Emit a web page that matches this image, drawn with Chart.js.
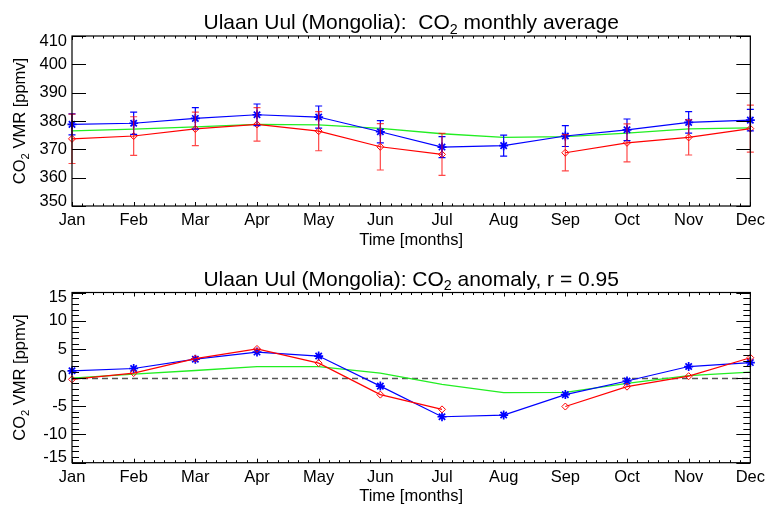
<!DOCTYPE html>
<html>
<head>
<meta charset="utf-8">
<script src="https://cdn.jsdelivr.net/npm/chart.js@4.4.1/dist/chart.umd.min.js"></script>
<style>
html, body { margin: 0; padding: 0; background: #fff; overflow: hidden; }
#wrap { position: relative; width: 770px; height: 506px; }
#wrap canvas { position: absolute; left: 0; }
</style>
</head>
<body>
<div id="wrap">
  <canvas id="avgChart" width="770" height="253" style="top:0px"></canvas>
  <canvas id="anomChart" width="770" height="253" style="top:253px"></canvas>
</div>
<script>
// ---- data -------------------------------------------------------------
const months = ['Jan', 'Feb', 'Mar', 'Apr', 'May', 'Jun', 'Jul', 'Aug', 'Sep', 'Oct', 'Nov', 'Dec'];

// monthly average CO2 VMR [ppmv]
const avgBlue  = [378.8, 379.2, 380.9, 382.2, 381.4, 376.2, 370.8, 371.3, 374.7, 376.9, 379.5, 380.3];
const errBlue  = [3.7, 3.9, 3.8, 3.8, 3.9, 3.9, 3.7, 3.7, 3.7, 3.8, 3.8, 3.8];
const avgRed   = [373.7, 374.7, 377.2, 378.8, 376.4, 370.9, 368.2, null, 368.8, 372.3, 374.2, 377.3];
const errRed   = [8.7, 6.8, 5.9, 5.9, 6.9, 8.2, 7.4, null, 6.4, 6.7, 6.2, 8.3];
const avgGreen = [376.5, 377.1, 377.9, 378.8, 378.6, 377.4, 375.5, 374.2, 374.5, 375.7, 377.2, 377.6];

// anomaly about the annual mean [ppmv]
const anomBlue  = [1.2, 1.6, 3.25, 4.5, 3.8, -1.5, -6.9, -6.6, -3.0, -0.6, 1.95, 2.65];
const anomRed   = [-0.3, 0.8, 3.35, 5.05, 2.55, -3.0, -5.6, null, -5.1, -1.6, 0.25, 3.5];
const anomGreen = [-0.1, 0.6, 1.25, 1.95, 1.95, 0.8, -1.2, -2.65, -2.6, -1.0, 0.35, 0.95];

// axis ranges and tick spacing
const avgAxis  = { min: 350, max: 410, step: 10, minor: null };
const anomAxis = { min: -15, max: 15, step: 5, minor: 1 };

const titleAvg  = [{ t: 'Ulaan Uul (Mongolia):  CO' }, { t: '2', sub: true }, { t: ' monthly average' }];
const titleAnom = [{ t: 'Ulaan Uul (Mongolia): CO' }, { t: '2', sub: true }, { t: ' anomaly, r = 0.95' }];
const yTitle    = [{ t: 'CO' }, { t: '2', sub: true }, { t: ' VMR [ppmv]' }];
const xTitle    = 'Time [months]';

// ---- drawing helpers --------------------------------------------------
const FONT = "'Liberation Sans', Arial, Helvetica, sans-serif";
const INK = '#000';

function richWidth(ctx, parts, size) {
  let w = 0;
  for (const p of parts) {
    ctx.font = (p.sub ? size * 0.68 : size) + 'px ' + FONT;
    w += ctx.measureText(p.t).width;
  }
  return w;
}
function drawRich(ctx, parts, x, y, size) {
  // x is the horizontal centre, y the baseline
  let cx = x - richWidth(ctx, parts, size) / 2;
  ctx.textAlign = 'left';
  ctx.textBaseline = 'alphabetic';
  for (const p of parts) {
    ctx.font = (p.sub ? size * 0.68 : size) + 'px ' + FONT;
    ctx.fillText(p.t, cx, p.sub ? y + size * 0.22 : y);
    cx += ctx.measureText(p.t).width;
  }
}

const idlFrame = {
  id: 'idlFrame',
  beforeDatasetsDraw(chart, args, o) {
    const { ctx, chartArea: a, scales: { y } } = chart;
    if (!o.zeroLine) return;
    const py = Math.round(y.getPixelForValue(0)) + 0.5;
    ctx.save();
    ctx.strokeStyle = '#555';
    ctx.lineWidth = 1.6;
    ctx.setLineDash([6, 4]);
    ctx.beginPath();
    ctx.moveTo(a.left, py);
    ctx.lineTo(a.right, py);
    ctx.stroke();
    ctx.restore();
  },
  afterDatasetsDraw(chart, args, o) {
    const { ctx, scales: { x, y } } = chart;
    ctx.save();
    for (const e of (o.errors || [])) {
      ctx.strokeStyle = e.color;
      ctx.lineWidth = 1.2;
      e.data.forEach((v, i) => {
        if (v === null || e.err[i] === null) return;
        const px = x.getPixelForValue(i);
        const y1 = y.getPixelForValue(v + e.err[i]);
        const y2 = y.getPixelForValue(v - e.err[i]);
        ctx.beginPath();
        ctx.moveTo(px, y1); ctx.lineTo(px, y2);
        ctx.moveTo(px - 3.5, y1); ctx.lineTo(px + 3.5, y1);
        ctx.moveTo(px - 3.5, y2); ctx.lineTo(px + 3.5, y2);
        ctx.stroke();
      });
    }
    ctx.restore();
  },
  afterDraw(chart, args, o) {
    const { ctx, chartArea: a, scales: { x, y } } = chart;
    const ax = o.axis;
    ctx.save();
    ctx.strokeStyle = INK;
    ctx.fillStyle = INK;

    // box around the plot
    ctx.lineWidth = 1.2;
    ctx.strokeRect(a.left, a.top, a.right - a.left, a.bottom - a.top);

    // y ticks, pointing inward on both sides
    ctx.lineWidth = 1;
    ctx.beginPath();
    for (let v = ax.min; v <= ax.max + 1e-9; v += ax.step) {
      const py = Math.round(y.getPixelForValue(v)) + 0.5;
      ctx.moveTo(a.left, py); ctx.lineTo(a.left + 14, py);
      ctx.moveTo(a.right, py); ctx.lineTo(a.right - 14, py);
    }
    if (ax.minor) {
      for (let v = ax.min; v <= ax.max + 1e-9; v += ax.minor) {
        if (Math.abs(v % ax.step) < 1e-9) continue;
        const py = Math.round(y.getPixelForValue(v)) + 0.5;
        ctx.moveTo(a.left, py); ctx.lineTo(a.left + 7, py);
        ctx.moveTo(a.right, py); ctx.lineTo(a.right - 7, py);
      }
    }
    // x ticks: one per month plus five minor in between
    for (let i = 0; i < months.length; i++) {
      const px = Math.round(x.getPixelForValue(i)) + 0.5;
      ctx.moveTo(px, a.bottom); ctx.lineTo(px, a.bottom - 4);
      ctx.moveTo(px, a.top); ctx.lineTo(px, a.top + 4);
      if (i < months.length - 1) {
        const p0 = x.getPixelForValue(i), p1 = x.getPixelForValue(i + 1);
        for (let k = 1; k < 6; k++) {
          const mx = Math.round(p0 + (p1 - p0) * k / 6) + 0.5;
          ctx.moveTo(mx, a.bottom); ctx.lineTo(mx, a.bottom - 2.5);
          ctx.moveTo(mx, a.top); ctx.lineTo(mx, a.top + 2.5);
        }
      }
    }
    ctx.stroke();

    // y tick labels, kept inside the vertical extent of the box
    ctx.font = '16.5px ' + FONT;
    ctx.textAlign = 'right';
    ctx.textBaseline = 'middle';
    for (const t of y.ticks) {
      let py = y.getPixelForValue(t.value);
      py = Math.min(Math.max(py, a.top + 5), a.bottom - 5);
      ctx.fillText(t.label, a.left - 5, py);
    }

    // titles
    const cx = (a.left + a.right) / 2;
    drawRich(ctx, o.title, cx, a.top - 7, 21);
    ctx.save();
    ctx.translate(25, (a.top + a.bottom) / 2);
    ctx.rotate(-Math.PI / 2);
    drawRich(ctx, yTitle, 0, 0, 16.5);
    ctx.restore();
    ctx.restore();
  }
};

function buildChart(id, series, axis, title, plotTop, plotBottom, errors, zeroLine) {
  const H = 253;
  const xH = H - plotBottom;
  const lineH = 16.5 * 1.2;
  return new Chart(document.getElementById(id), {
    type: 'line',
    data: {
      labels: months,
      datasets: [
        { data: series.red, borderColor: '#ff0000', borderWidth: 1.2,
          pointStyle: 'rectRot', pointRadius: 3.5, pointBorderWidth: 1,
          pointBackgroundColor: 'rgba(0,0,0,0)', pointBorderColor: '#ff0000', clip: false },
        { data: series.blue, borderColor: '#0000ff', borderWidth: 1.2,
          pointStyle: 'star', pointRadius: 4.5, pointBorderWidth: 1.7,
          pointBorderColor: '#0000ff', clip: false },
        { data: series.green, borderColor: '#22ee22', borderWidth: 1.3,
          pointRadius: 0, clip: false }
      ]
    },
    options: {
      responsive: false,
      animation: false,
      events: [],
      spanGaps: false,
      layout: { padding: { left: 0, right: 770 - 751, top: plotTop, bottom: 0 } },
      scales: {
        x: {
          type: 'category',
          offset: false,
          grid: { display: false, drawTicks: false },
          border: { display: false },
          ticks: { color: INK, font: { family: FONT, size: 16.5 }, padding: 5,
                   maxRotation: 0, autoSkip: false },
          title: { display: true, text: xTitle, color: INK,
                   font: { family: FONT, size: 16.5 },
                   padding: { top: 0, bottom: xH - 34 - lineH / 2 } },
          afterFit(s) { s.height = xH; }
        },
        y: {
          min: axis.min, max: axis.max,
          grid: { display: false, drawTicks: false },
          border: { display: false },
          ticks: { display: false, stepSize: axis.step },
          afterFit(s) { s.width = 72; }
        }
      },
      plugins: {
        legend: { display: false },
        tooltip: { enabled: false },
        title: { display: false },
        idlFrame: { axis, title, errors, zeroLine }
      }
    },
    plugins: [idlFrame]
  });
}

buildChart('avgChart',
  { red: avgRed, blue: avgBlue, green: avgGreen },
  avgAxis, titleAvg, 36, 206,
  [ { data: avgBlue, err: errBlue, color: '#0000ff' },
    { data: avgRed, err: errRed, color: 'rgba(255,0,0,0.72)' } ],
  false);

buildChart('anomChart',
  { red: anomRed, blue: anomBlue, green: anomGreen },
  anomAxis, titleAnom, 39.5, 209.7,
  [],
  true);
</script>
</body>
</html>
